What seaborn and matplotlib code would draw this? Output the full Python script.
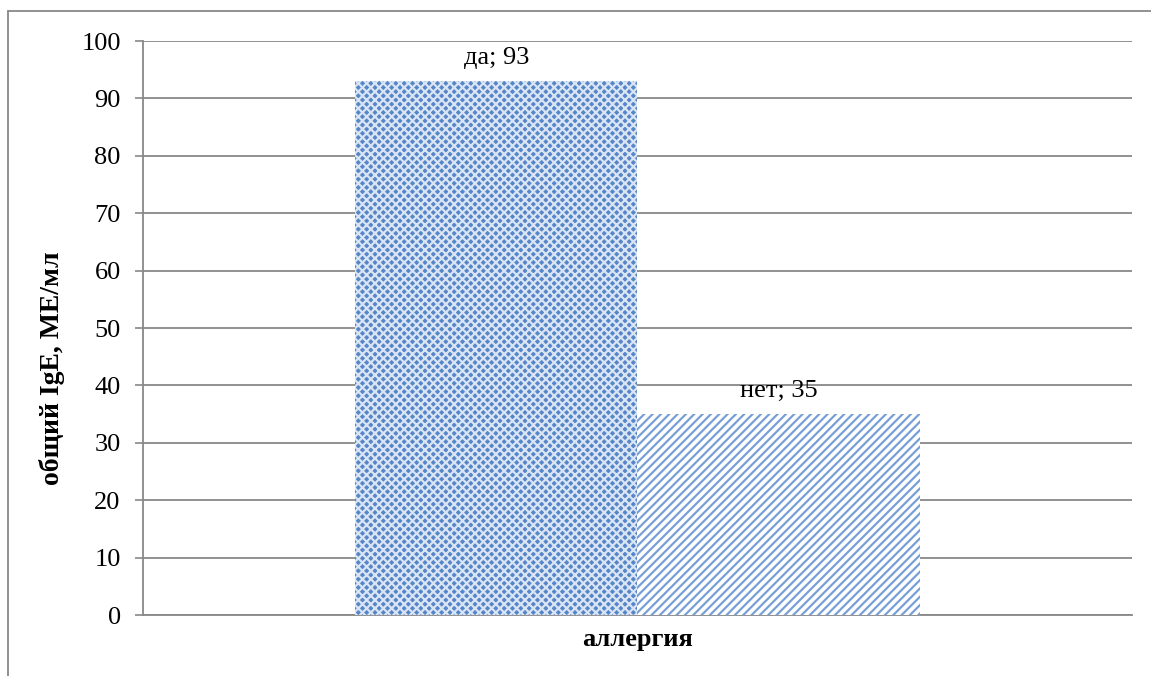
import matplotlib
matplotlib.use("Agg")
import matplotlib.pyplot as plt
from matplotlib.lines import Line2D
import pandas as pd
import seaborn as sns

# data
groups = ["да", "нет"]
values = [93, 35]
category = "аллергия"
y_label = "общий IgE, МЕ/мл"
y_ticks = list(range(0, 101, 10))

sns.set_style("white")
plt.rcParams["font.family"] = ["Liberation Serif", "DejaVu Serif"]
plt.rcParams["hatch.linewidth"] = 1.6
plt.rcParams["text.color"] = "black"
plt.rcParams["axes.labelcolor"] = "black"
plt.rcParams["ytick.labelcolor"] = "black"

df = pd.DataFrame({"x": [""] * len(groups), "group": groups, "value": values})

fig = plt.figure(figsize=(11.51, 6.76), dpi=100)
ax = fig.add_axes([0.1242, 0.0902, 0.8593, 0.8491])

sns.barplot(
    data=df, x="x", y="value", hue="group", hue_order=groups,
    width=0.571, dodge=True, legend=False, ax=ax, zorder=3,
)

styles = [
    dict(face="#5686C8", hatch="xxxx", line="#D9E4F4"),
    dict(face="white", hatch="////", line="#79A0D6"),
]
for patch, st in zip(ax.patches, styles):
    patch.set_facecolor(st["face"])
    patch.set_edgecolor(st["line"])
    patch.set_hatch(st["hatch"])
    patch.set_linewidth(0)

for cont, g, v in zip(ax.containers, groups, values):
    ax.bar_label(cont, labels=[f"{g}; {v}"], padding=9, fontsize=19, color="black")

ax.set_ylim(0, 100)
ax.set_yticks(y_ticks)
ax.tick_params(axis="y", labelsize=19, length=6, width=1.2, color="#888888",
               labelcolor="black", pad=10, left=True)
ax.tick_params(axis="x", bottom=False, labelbottom=False)
ax.yaxis.grid(True, color="#888888", linewidth=1.3, zorder=0)
ax.set_axisbelow(True)
for side in ["top", "right"]:
    ax.spines[side].set_visible(False)
for side in ["left", "bottom"]:
    ax.spines[side].set_color("#888888")
    ax.spines[side].set_linewidth(1.3)

ax.set_xlabel(category, fontsize=19, fontweight="bold", labelpad=9, color="black")
ax.set_ylabel(y_label, fontsize=20, fontweight="bold", color="black")
ax.yaxis.set_label_coords(-0.079, 0.43)

# outer chart frame
fig.add_artist(Line2D([8 / 1151, 8 / 1151], [-0.01, 1 - 11 / 676], color="#888888", lw=1.3))
fig.add_artist(Line2D([8 / 1151, 1.01], [1 - 11 / 676, 1 - 11 / 676], color="#888888", lw=1.3))

fig.savefig("out.png", dpi=100)
